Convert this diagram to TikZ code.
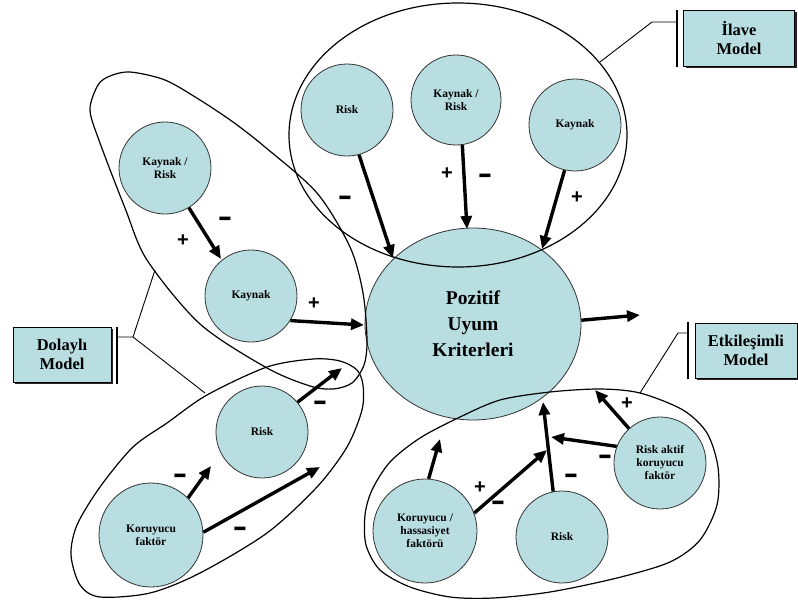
\documentclass[tikz,border=0pt]{standalone}
\usepackage{fontspec}
\setmainfont{Liberation Serif}
\newfontfamily\signfont{Liberation Sans}
\usetikzlibrary{arrows.meta,shapes.geometric,shadows}
\definecolor{cfill}{RGB}{184,222,226}
\begin{document}
\begin{tikzpicture}[x=1pt,y=-1pt,
  factor/.style={circle,fill=cfill,draw=black!80,line width=0.8pt,minimum size=#1,
    inner sep=0pt,align=center,font=\bfseries\fontsize{11.5}{13}\selectfont},
  factor/.default=92pt,
  group/.style={draw=black,line width=1.2pt},
  link/.style={line width=3.4pt,-{Triangle[length=13pt,width=11pt]}},
  sign/.style={font=\signfont\bfseries\fontsize{20}{20}\selectfont,inner sep=0pt},
  modelbox/.style={fill=cfill,draw=black,line width=0.8pt,align=center,inner sep=0pt,
    font=\bfseries\fontsize{16.5}{19}\selectfont,
    drop shadow={shadow xshift=2pt,shadow yshift=-2pt,fill=black!85,opacity=1}},
  bracket/.style={draw=black,line width=0.9pt},
  bar/.style={draw=black,line width=1.6pt}
]
\useasboundingbox (0,0) rectangle (798,605);

% central outcome
\node[ellipse,fill=cfill,draw=black!80,line width=0.8pt,minimum width=216pt,minimum height=192pt,
  inner sep=0pt,align=center,font=\bfseries\fontsize{19.5}{26}\selectfont] (poz) at (473,324)
  {Pozitif\\Uyum\\Kriterleri};

% additive model
\node[factor] (trisk) at (347,110) {Risk};
\node[factor=90pt] (tkr) at (456,100) {Kaynak /\\Risk};
\node[factor] (tkay) at (575,125) {Kaynak};

% indirect model
\node[factor] (lkr) at (165,168) {Kaynak /\\Risk};
\node[factor] (lkay) at (251,296) {Kaynak};
\node[factor] (blrisk) at (262,432) {Risk};
\node[factor=104pt] (koru) at (151,535) {Koruyucu\\faktör};

% interactive model
\node[factor=104pt] (hass) at (425,531) {Koruyucu /\\hassasiyet\\faktörü};
\node[factor] (brisk) at (562,537) {Risk};
\node[factor] (aktif) at (660,463) {Risk aktif\\koruyucu\\faktör};

% group outlines
\draw[group] (458,135) ellipse [x radius=169, y radius=132];
\draw[group] plot[smooth cycle] coordinates {
  (130,72) (165,80) (200,100) (233,122) (265,147) (317,193) (350,247) (363,293)
  (367,340) (364,365) (352,383) (333,389) (310,386) (267,368) (200,324) (147,260)
  (125,208) (100,143) (90,110) (98,85) (110,76)};
\draw[group] plot[smooth cycle] coordinates {
  (100,487) (133,447) (167,423) (207,395) (267,367) (313,359) (340,361) (357,370)
  (363,385) (362,410) (347,447) (317,487) (267,533) (200,573) (150,593) (100,597)
  (80,585) (71,555) (77,525)};
\draw[group] plot[smooth cycle] coordinates {
  (460,417) (500,400) (550,392) (600,389) (640,393) (683,410) (707,433) (718,467)
  (717,505) (700,540) (670,562) (617,578) (550,592) (493,598) (450,597) (410,587)
  (380,570) (366,545) (365,515) (372,490) (390,462) (420,438)};

% free arrow ends
\coordinate (e1) at (393,258);
\coordinate (e2) at (467,229);
\coordinate (e3) at (542,249);
\coordinate (e4) at (221,259);
\coordinate (e5) at (364,325);
\coordinate (e6) at (342,368);
\coordinate (e7) at (211,466);
\coordinate (e8) at (320,467);
\coordinate (e9) at (440,439);
\coordinate (e10) at (547,450);
\coordinate (e11) at (543,402);
\coordinate (e12) at (551,437);
\coordinate (e13) at (595,390);
\coordinate (e14) at (640,315);

% effects
\draw[link] (trisk.-75.7) -- (e1);
\draw[link] (tkr.-82.9) -- (e2);
\draw[link] (tkay.-103.4) -- (e3);
\draw[link] (lkr.-59.2) -- (e4);
\draw[link] (lkay.-32.4) -- (e5);
\draw[link] (blrisk.40.6) -- (e6);
\draw[link] (koru.45) -- (e7);
\draw[link] (koru.3) -- (e8);
\draw[link] (hass.86) -- (e9);
\draw[link] (hass.20) -- (e10);
\draw[link] (brisk.101) -- (e11);
\draw[link] (aktif.159.6) -- (e12);
\draw[link] (aktif.132.4) -- (e13);
\draw[link] (poz.2) -- (e14);

% effect signs
\node[sign] (s1) at (345,202) {\scalebox{1.1}[1.6]{−}};
\node[sign] (s2) at (447,174) {+};
\node[sign] (s3) at (485,180) {\scalebox{1.1}[1.6]{−}};
\node[sign] (s4) at (577,198) {+};
\node[sign] (s5) at (183,241) {+};
\node[sign] (s6) at (225,223) {\scalebox{1.1}[1.6]{−}};
\node[sign] (s7) at (314,304) {+};
\node[sign] (s8) at (320,407) {\scalebox{1.1}[1.6]{−}};
\node[sign] (s9) at (180,480) {\scalebox{1.1}[1.6]{−}};
\node[sign] (s10) at (240,533) {\scalebox{1.1}[1.6]{−}};
\node[sign] (s11) at (480,488) {+};
\node[sign] (s12) at (498,507) {\scalebox{1.1}[1.6]{−}};
\node[sign] (s13) at (571,480) {\scalebox{1.1}[1.6]{−}};
\node[sign] (s14) at (605,461) {\scalebox{1.1}[1.6]{−}};
\node[sign] (s15) at (627,404) {+};

% model labels with brackets
\node[modelbox,minimum width=111pt,minimum height=56pt] (ilave) at (739,38) {İlave\\Model};
\coordinate (ib) at (677,22);
\coordinate (ik) at (652,22);
\coordinate (ie) at (600,62);
\draw[bar] (677,10) -- (677,67);
\draw[bracket] (ib) -- (ik) -- (ie);

\node[modelbox,minimum width=98pt,minimum height=55pt] (dol) at (62,354.5) {Dolaylı\\Model};
\coordinate (db) at (117,337);
\coordinate (dk) at (133,337);
\coordinate (du) at (155,270);
\coordinate (dd) at (205,393);
\draw[bar] (117,327) -- (117,384);
\draw[bracket] (db) -- (dk) -- (du);
\draw[bracket] (dk) -- (dd);

\node[modelbox,minimum width=102pt,minimum height=55pt] (etk) at (746,350.5) {Etkileşimli\\Model};
\coordinate (eb) at (688,333);
\coordinate (ek) at (678,333);
\coordinate (ee) at (640,393);
\draw[bar] (688,322) -- (688,379);
\draw[bracket] (eb) -- (ek) -- (ee);
\end{tikzpicture}
\end{document}
